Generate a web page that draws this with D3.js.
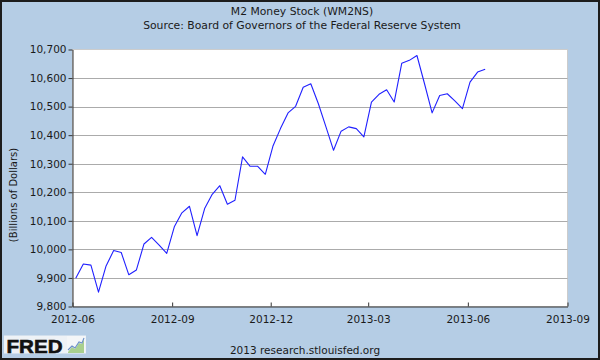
<!DOCTYPE html>
<html><head><meta charset="utf-8">
<script src="https://cdn.jsdelivr.net/npm/d3@7"></script>
<style>body{margin:0;padding:0;background:#fff}svg{display:block}</style>
</head><body>
<script>
const title = "M2 Money Stock (WM2NS)";
const subtitle = "Source: Board of Governors of the Federal Reserve System";
const yLabel = "(Billions of Dollars)";
const footer = "2013 research.stlouisfed.org";

const dates = ["2012-06-04","2012-06-11","2012-06-18","2012-06-25","2012-07-02","2012-07-09","2012-07-16","2012-07-23","2012-07-30",
"2012-08-06","2012-08-13","2012-08-20","2012-08-27","2012-09-03","2012-09-10","2012-09-17","2012-09-24","2012-10-01","2012-10-08",
"2012-10-15","2012-10-22","2012-10-29","2012-11-05","2012-11-12","2012-11-19","2012-11-26","2012-12-03","2012-12-10","2012-12-17",
"2012-12-24","2012-12-31","2013-01-07","2013-01-14","2013-01-21","2013-01-28","2013-02-04","2013-02-11","2013-02-18","2013-02-25",
"2013-03-04","2013-03-11","2013-03-18","2013-03-25","2013-04-01","2013-04-08","2013-04-15","2013-04-22","2013-04-29","2013-05-06",
"2013-05-13","2013-05-20","2013-05-27","2013-06-03","2013-06-10","2013-06-17"];
const values = [9899,9949,9945,9850,9942,9996,9989,9911,9928,
10019,10042,10015,9986,10079,10128,10151,10048,10143,10193,
10223,10158,10172,10324,10291,10291,10263,10361,10423,10478,
10501,10568,10580,10510,10429,10347,10414,10429,10423,10394,
10516,10543,10559,10516,10652,10662,10679,10580,10478,10539,
10545,10520,10493,10586,10621,10631];
const yTicks = [9800,9900,10000,10100,10200,10300,10400,10500,10600,10700];
const xTickLabels = ["2012-06","2012-09","2012-12","2013-03","2013-06","2013-09"];

const W = 600, H = 360;
const parse = d3.timeParse("%Y-%m-%d");
const parseM = d3.timeParse("%Y-%m");
const data = dates.map((d,i)=>({date:parse(d), value:values[i]}));

const x = d3.scaleTime().domain([parseM("2012-06"), parseM("2013-09")]).range([72.5, 567.5]);
const y = d3.scaleLinear().domain([9800,10700]).range([306.5, 49.5]);

const svg = d3.select("body").append("svg").attr("width",W).attr("height",H);
const font = "DejaVu Sans, Verdana, sans-serif";
const fs = 10.5;

svg.append("rect").attr("x",1).attr("y",1).attr("width",W-2).attr("height",H-2)
  .attr("fill","#b5cde5").attr("stroke","#1c1c1c").attr("stroke-width",2);

// plot area
svg.append("rect").attr("x",x.range()[0]).attr("y",y.range()[1])
  .attr("width",x.range()[1]-x.range()[0]).attr("height",y.range()[0]-y.range()[1])
  .attr("fill","#ffffff").attr("stroke","#cccccc").attr("stroke-width",1);

// gridlines
svg.append("g").selectAll("line").data(yTicks.slice(1,-1)).join("line")
  .attr("x1",x.range()[0]).attr("x2",x.range()[1])
  .attr("y1",d=>Math.round(y(d))+0.5).attr("y2",d=>Math.round(y(d))+0.5)
  .attr("stroke","#ababab").attr("stroke-width",1);

// titles
svg.append("text").attr("x",302).attr("y",15).attr("text-anchor","middle")
  .attr("font-family",font).attr("font-size",10.8).attr("fill","#1a1a1a").text(title);
svg.append("text").attr("x",302).attr("y",29).attr("text-anchor","middle")
  .attr("font-family",font).attr("font-size",10.8).attr("fill","#1a1a1a").text(subtitle);

// y label
svg.append("text").attr("transform","translate(17,195) rotate(-90)").attr("text-anchor","middle")
  .attr("font-family",font).attr("font-size",10).attr("fill","#1a1a1a").text(yLabel);

// axes
const yAxis = d3.axisLeft(y).tickValues(yTicks).tickFormat(d3.format(",")).tickSizeInner(4).tickSizeOuter(0).tickPadding(2);
const gy = svg.append("g").attr("transform",`translate(${x.range()[0]},0)`).call(yAxis);
gy.selectAll("text").attr("font-family",font).attr("font-size",fs).attr("fill","#1a1a1a");
gy.selectAll("line").attr("stroke","#333");
gy.select(".domain").attr("stroke","#333");

const xAxis = d3.axisBottom(x).tickValues(xTickLabels.map(parseM)).tickFormat(d3.timeFormat("%Y-%m"))
  .tickSizeInner(-4).tickSizeOuter(0).tickPadding(9);
const gx = svg.append("g").attr("transform",`translate(0,${y.range()[0]})`).call(xAxis);
gx.selectAll("text").attr("font-family",font).attr("font-size",fs).attr("fill","#1a1a1a");
gx.selectAll("line").attr("stroke","#333");
gx.select(".domain").attr("stroke","#333");

// series line
svg.append("path").datum(data)
  .attr("d", d3.line().x(d=>x(d.date)).y(d=>y(d.value)))
  .attr("fill","none").attr("stroke","#2020ff").attr("stroke-width",1.1).attr("stroke-linejoin","round");

// footer
svg.append("text").attr("x",305).attr("y",354).attr("text-anchor","middle")
  .attr("font-family",font).attr("font-size",fs).attr("fill","#1a1a1a").text(footer);

// FRED logo
svg.append("rect").attr("x",4).attr("y",335.5).attr("width",82).attr("height",18).attr("fill","#eef2f6");
svg.append("text").attr("x",6.5).attr("y",352.5).attr("font-family","Liberation Sans, Arial, sans-serif")
  .attr("font-weight","bold").attr("font-size",19).attr("textLength",56).attr("lengthAdjust","spacingAndGlyphs")
  .attr("fill","#111").attr("stroke","#111").attr("stroke-width",0.6).text("FRED");
const logo = svg.append("g").attr("transform","translate(67,336)");
logo.append("rect").attr("width",18).attr("height",17).attr("fill","#f4f6f8");
logo.append("path").attr("d","M1,16 L5,11 L8,13 L12,7 L15,8 L17,3 L17,17 L1,17 Z").attr("fill","#a9d08e");
logo.append("path").attr("d","M1,14 L5,10 L8,12 L12,6 L15,7 L17,2").attr("fill","none").attr("stroke","#6a8fc8").attr("stroke-width",1.1);
</script>
</body></html>
